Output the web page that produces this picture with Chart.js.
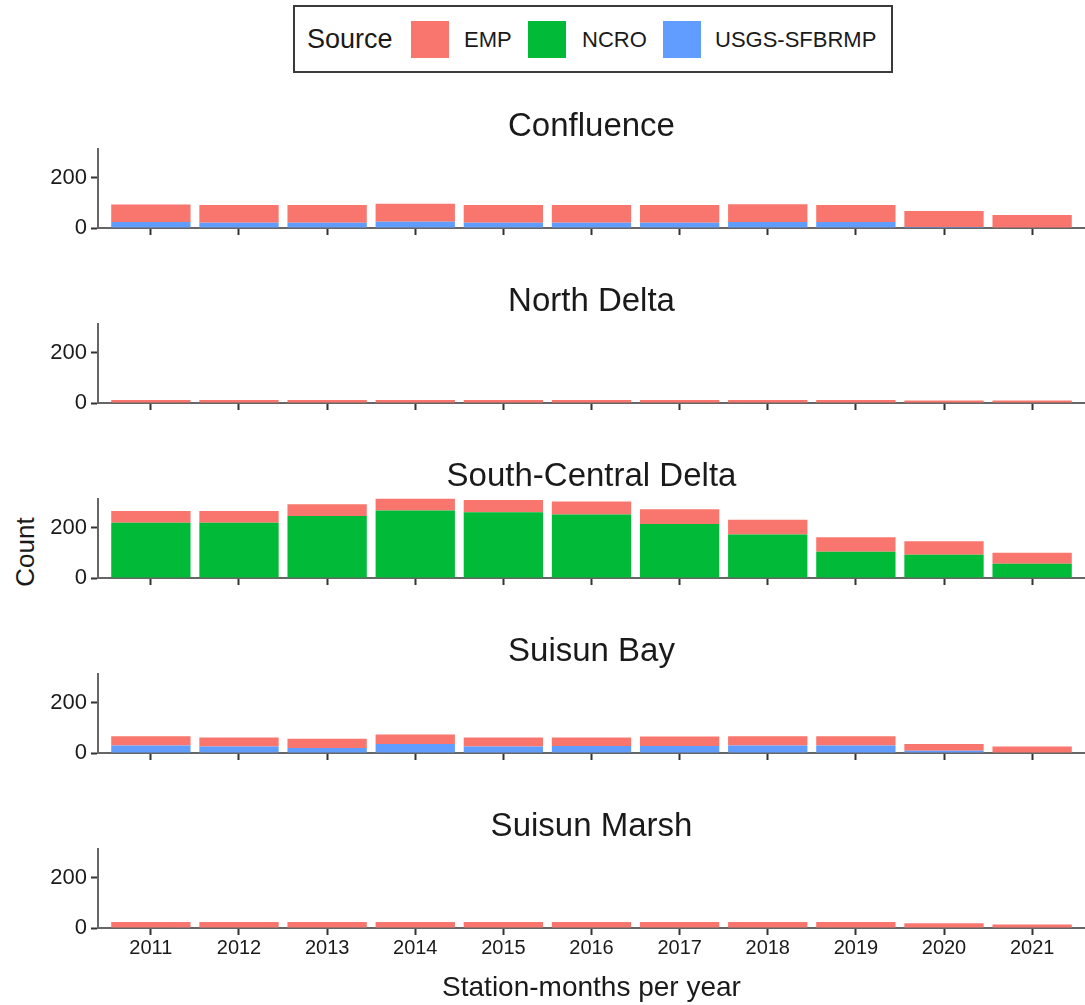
<!DOCTYPE html>
<html>
<head>
<meta charset="utf-8">
<script src="https://cdn.jsdelivr.net/npm/chart.js@4.4.0/dist/chart.umd.min.js"></script>
<style>
  body { margin: 0; background: #fff; font-family: "Liberation Sans", Arial, sans-serif; color: #1a1a1a; }
  #wrap { position: relative; width: 1085px; height: 1005px; overflow: hidden; }
  .panel { position: absolute; left: 0; width: 1085px; }
  #legend { position: absolute; left: 293px; top: 5px; width: 596px; height: 64px; border: 2px solid #3a3a3a; }
  #legend span { position: absolute; white-space: nowrap; }
  #legend .sw { width: 38px; height: 37px; top: 14px; }
  #legend .lab { font-size: 22px; top: 20px; }
  #count { position: absolute; left: 25px; top: 552px; transform: translate(-50%, -50%) rotate(-90deg); font-size: 26px; white-space: nowrap; }
</style>
</head>
<body>
<div id="wrap">
  <div id="legend">
    <span style="left:12px;top:17px;font-size:27px">Source</span>
    <span class="sw" style="left:116px;background:#F8766D"></span>
    <span class="lab" style="left:169px">EMP</span>
    <span class="sw" style="left:233px;background:#00BA38"></span>
    <span class="lab" style="left:287px">NCRO</span>
    <span class="sw" style="left:368px;background:#619CFF"></span>
    <span class="lab" style="left:420px">USGS-SFBRMP</span>
  </div>
  <div id="count">Count</div>
  <canvas id="p0" class="panel" width="1085" height="175" style="top:95px"></canvas>
  <canvas id="p1" class="panel" width="1085" height="175" style="top:270px"></canvas>
  <canvas id="p2" class="panel" width="1085" height="175" style="top:445px"></canvas>
  <canvas id="p3" class="panel" width="1085" height="175" style="top:620px"></canvas>
  <canvas id="p4" class="panel" width="1085" height="210" style="top:795px"></canvas>
</div>
<script>
var years = [2011, 2012, 2013, 2014, 2015, 2016, 2017, 2018, 2019, 2020, 2021];
var yTicks = [0, 100, 200, 300];

// station-months per year, by region and source
var confluenceEMP  = [70, 71, 71, 72, 71, 71, 71, 71, 68, 64, 52];
var confluenceNCRO = [0, 0, 0, 0, 0, 0, 0, 0, 0, 0, 0];
var confluenceUSGS = [24, 21, 21, 25, 21, 21, 21, 24, 24, 4, 0];

var northEMP  = [12, 12, 12, 12, 12, 12, 12, 12, 12, 10, 10];
var northNCRO = [0, 0, 0, 0, 0, 0, 0, 0, 0, 0, 0];
var northUSGS = [0, 0, 0, 0, 0, 0, 0, 0, 0, 0, 0];

var southEMP  = [47, 47, 47, 47, 48, 51, 59, 59, 58, 53, 43];
var southNCRO = [220, 220, 247, 269, 262, 253, 215, 173, 104, 93, 57];
var southUSGS = [0, 0, 0, 0, 0, 0, 0, 0, 0, 0, 0];

var bayEMP  = [37, 36, 37, 38, 36, 34, 38, 37, 37, 27, 26];
var bayNCRO = [0, 0, 0, 0, 0, 0, 0, 0, 0, 0, 0];
var bayUSGS = [30, 26, 20, 36, 26, 28, 28, 30, 30, 9, 0];

var marshEMP  = [24, 24, 24, 24, 24, 24, 24, 24, 24, 19, 14];
var marshNCRO = [0, 0, 0, 0, 0, 0, 0, 0, 0, 0, 0];
var marshUSGS = [0, 0, 0, 0, 0, 0, 0, 0, 0, 0, 0];

var colors = { EMP: '#F8766D', NCRO: '#00BA38', USGS: '#619CFF' };

function pts(vals) {
  return vals.map(function (v, i) { return { x: years[i], y: v }; });
}

function drawPanel(id, title, emp, ncro, usgs, bottom) {
  var ctx = document.getElementById(id).getContext('2d');
  return new Chart(ctx, {
    type: 'bar',
    data: {
      // first dataset sits at the bottom of the stack
      datasets: [
        { label: 'USGS-SFBRMP', data: pts(usgs), backgroundColor: colors.USGS },
        { label: 'NCRO', data: pts(ncro), backgroundColor: colors.NCRO },
        { label: 'EMP', data: pts(emp), backgroundColor: colors.EMP }
      ]
    },
    options: {
      responsive: false,
      animation: false,
      events: [],
      layout: { padding: 0 },
      datasets: { bar: { categoryPercentage: 1, barPercentage: 0.9, borderWidth: 0 } },
      plugins: {
        legend: { display: false },
        tooltip: { enabled: false },
        title: {
          display: true,
          fullSize: false, // centre over the plot area, not the canvas
          text: title,
          color: '#1a1a1a',
          font: { family: 'Liberation Sans', size: 33, weight: 'normal', lineHeight: 1.2 },
          padding: { top: 12, bottom: 2 }
        }
      },
      scales: {
        x: {
          type: 'linear',
          stacked: true,
          offset: false,
          min: 2010.4,
          max: 2021.6,
          afterBuildTicks: function (s) { s.ticks = years.map(function (y) { return { value: y }; }); },
          afterFit: function (s) { s.height = bottom ? 77 : 42; },
          ticks: {
            display: bottom,
            padding: 1,
            color: '#1a1a1a',
            font: { family: 'Liberation Sans', size: 20 },
            callback: function (v) { return String(v); }
          },
          grid: { offset: false, drawOnChartArea: false, drawTicks: true, tickLength: 7, tickColor: '#333', tickWidth: 2 },
          border: { display: true, color: '#666', width: 2 },
          title: {
            display: bottom,
            text: 'Station-months per year',
            color: '#1a1a1a',
            font: { family: 'Liberation Sans', size: 28 },
            padding: { top: 0, bottom: 0 }
          }
        },
        y: {
          stacked: true,
          min: 0,
          max: 316,
          afterBuildTicks: function (s) { s.ticks = yTicks.map(function (v) { return { value: v }; }); },
          afterFit: function (s) { s.width = 98; },
          ticks: {
            padding: 4,
            color: '#1a1a1a',
            font: { family: 'Liberation Sans', size: 22 },
            callback: function (v) { return v % 200 === 0 ? String(v) : ''; }
          },
          grid: { drawOnChartArea: false, drawTicks: true, tickLength: 7, tickColor: '#333', tickWidth: 2 },
          border: { display: true, color: '#666', width: 2 }
        }
      }
    }
  });
}

drawPanel('p0', 'Confluence', confluenceEMP, confluenceNCRO, confluenceUSGS, false);
drawPanel('p1', 'North Delta', northEMP, northNCRO, northUSGS, false);
drawPanel('p2', 'South-Central Delta', southEMP, southNCRO, southUSGS, false);
drawPanel('p3', 'Suisun Bay', bayEMP, bayNCRO, bayUSGS, false);
drawPanel('p4', 'Suisun Marsh', marshEMP, marshNCRO, marshUSGS, true);
</script>
</body>
</html>
